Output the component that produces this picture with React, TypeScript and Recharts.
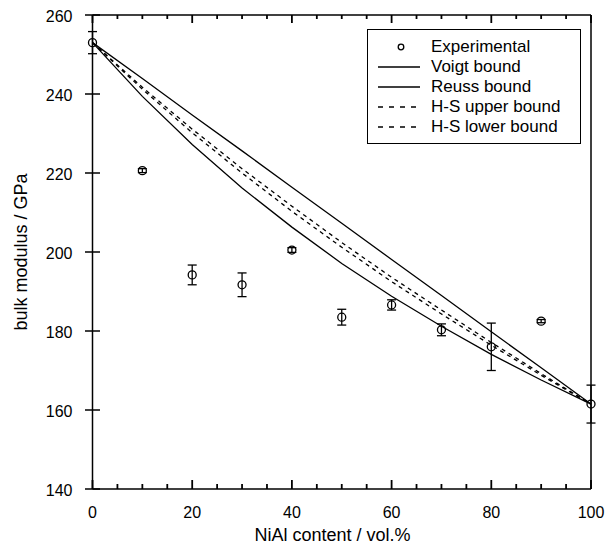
import React from "react";
import {
  ComposedChart,
  Line,
  Scatter,
  ErrorBar,
  XAxis,
  YAxis,
} from "recharts";

// NiAl volume fraction (%)
const content = [0, 10, 20, 30, 40, 50, 60, 70, 80, 90, 100];

// bounds
const voigt = [253, 243.9, 234.7, 225.6, 216.4, 207.3, 198.1, 189.0, 179.8, 170.7, 161.5];
const reuss = [253, 239.4, 227.2, 216.2, 206.3, 197.1, 188.8, 181.2, 174.1, 167.6, 161.5];
const hsUpper = [253, 241.7, 231.1, 221.1, 211.6, 202.4, 193.6, 185.3, 177.1, 169.2, 161.5];
const hsLower = [253, 241.2, 230.2, 220.0, 210.3, 201.2, 192.5, 184.3, 176.4, 168.8, 161.5];

// measured points with error
const expValue = [253.0, 220.6, 194.2, 191.7, 200.5, 183.5, 186.6, 180.3, 176.0, 182.5, 161.5];
const expError = [2.8, 0.5, 2.5, 3.0, 0.6, 2.0, 1.3, 1.5, 6.0, 0.4, 4.8];

const xTicks = [0, 5, 10, 15, 20, 25, 30, 35, 40, 45, 50, 55, 60, 65, 70, 75, 80, 85, 90, 95, 100];
const yTicks = [140, 160, 180, 200, 220, 240, 260];

const bounds = content.map((x, i) => ({
  x,
  voigt: voigt[i],
  reuss: reuss[i],
  hsUpper: hsUpper[i],
  hsLower: hsLower[i],
}));

const experimental = content.map((x, i) => ({ x, y: expValue[i], err: expError[i] }));

const FONT = "'Liberation Sans', Arial, Helvetica, sans-serif";
const INK = "#000";

const renderBottomTick = (props: any) => {
  const { x, y, payload } = props;
  const major = payload.value % 20 === 0;
  const len = major ? 9 : 5;
  return (
    <g key={`b-${payload.value}`}>
      <path d={`M${x},${y}L${x},${y - len}`} stroke={INK} strokeWidth={1.8} fill="none" />
      {major && (
        <text x={x} y={y + 29} textAnchor="middle" fontSize={16} fontFamily={FONT} fill={INK}>
          {payload.value}
        </text>
      )}
    </g>
  );
};

const renderTopTick = (props: any) => {
  const { x, y, payload } = props;
  const len = payload.value % 20 === 0 ? 8 : 4;
  return (
    <g key={`t-${payload.value}`}>
      <path d={`M${x},${y}L${x},${y + len}`} stroke={INK} strokeWidth={1.8} fill="none" />
    </g>
  );
};

const renderLeftTick = (props: any) => {
  const { x, y, payload } = props;
  return (
    <g key={`l-${payload.value}`}>
      <path d={`M${x - 7.5},${y}L${x + 7.5},${y}`} stroke={INK} strokeWidth={1.5} fill="none" />
      <text x={x - 20} y={y + 6.5} textAnchor="end" fontSize={16} fontFamily={FONT} fill={INK}>
        {payload.value}
      </text>
    </g>
  );
};

const renderRightTick = (props: any) => {
  const { x, y, payload } = props;
  return (
    <g key={`r-${payload.value}`}>
      <path d={`M${x - 8},${y}L${x + 9},${y}`} stroke={INK} strokeWidth={1.5} fill="none" />
    </g>
  );
};

function OpenCircle(props: any) {
  const { cx, cy } = props;
  return <circle cx={cx} cy={cy} r={4} fill="none" stroke={INK} strokeWidth={1.3} />;
}

function LegendBox() {
  const rows = [
    { label: "Experimental", kind: "circle" },
    { label: "Voigt bound", kind: "solid" },
    { label: "Reuss bound", kind: "solid" },
    { label: "H-S upper bound", kind: "dash" },
    { label: "H-S lower bound", kind: "dash" },
  ];
  return (
    <div
      style={{
        position: "absolute",
        left: 367,
        top: 29,
        width: 212,
        height: 106,
        border: "1.5px solid #000",
        background: "#fff",
        paddingTop: 7,
        boxSizing: "content-box",
        fontFamily: FONT,
        fontSize: 17,
      }}
    >
      {rows.map((r) => (
        <div key={r.label} style={{ display: "flex", alignItems: "center", height: 20 }}>
          <svg width={63} height={20} style={{ flex: "none" }}>
            {r.kind === "circle" && (
              <circle cx={33} cy={10} r={2.8} fill="none" stroke={INK} strokeWidth={1.3} />
            )}
            {r.kind === "solid" && <line x1={10} x2={52} y1={10} y2={10} stroke={INK} strokeWidth={1.3} />}
            {r.kind === "dash" && (
              <line x1={10} x2={52} y1={10} y2={10} stroke={INK} strokeWidth={1.3} strokeDasharray="5 6" />
            )}
          </svg>
          <span style={{ lineHeight: "20px" }}>{r.label}</span>
        </div>
      ))}
    </div>
  );
}

export default function App() {
  return (
    <div style={{ position: "absolute", left: 0, top: 0, width: 613, height: 549, background: "#fff" }}>
      <ComposedChart
        width={613}
        height={549}
        data={bounds}
        margin={{ top: 0, right: 0, bottom: 0, left: 0 }}
      >
        <XAxis
          dataKey="x"
          type="number"
          domain={[0, 100]}
          ticks={xTicks}
          interval={0}
          height={60}
          tickSize={0}
          tickMargin={0}
          tickLine={false}
          tick={renderBottomTick}
          axisLine={{ stroke: INK, strokeWidth: 1.5 }}
          label={{
            content: (p: any) => (
              <text
                x={p.viewBox.x + 240}
                y={p.viewBox.y + 52}
                textAnchor="middle"
                fontSize={18}
                fontFamily={FONT}
                fill={INK}
              >
                NiAl content / vol.%
              </text>
            ),
          }}
        />
        <XAxis
          xAxisId="top"
          dataKey="x"
          type="number"
          orientation="top"
          domain={[0, 100]}
          ticks={xTicks}
          interval={0}
          height={15}
          tickSize={0}
          tickMargin={0}
          tickLine={false}
          tick={renderTopTick}
          axisLine={{ stroke: INK, strokeWidth: 1.5 }}
        />
        <YAxis
          type="number"
          domain={[140, 260]}
          ticks={yTicks}
          interval={0}
          width={92.5}
          tickSize={0}
          tickMargin={0}
          tickLine={false}
          tick={renderLeftTick}
          axisLine={{ stroke: INK, strokeWidth: 1.5 }}
          label={{
            content: (p: any) => {
              const cx = 21;
              const cy = p.viewBox.y + p.viewBox.height / 2;
              return (
                <text
                  x={cx}
                  y={cy}
                  transform={`rotate(-90 ${cx} ${cy})`}
                  textAnchor="middle"
                  dominantBaseline="central"
                  fontSize={18}
                  fontFamily={FONT}
                  fill={INK}
                >
                  bulk modulus / GPa
                </text>
              );
            },
          }}
        />
        <YAxis
          yAxisId="right"
          orientation="right"
          type="number"
          domain={[140, 260]}
          ticks={yTicks}
          interval={0}
          width={22}
          tickSize={0}
          tickMargin={0}
          tickLine={false}
          tick={renderRightTick}
          axisLine={{ stroke: INK, strokeWidth: 1.5 }}
        />
        <Line dataKey="voigt" stroke={INK} strokeWidth={1.3} dot={false} isAnimationActive={false} />
        <Line dataKey="reuss" stroke={INK} strokeWidth={1.3} dot={false} isAnimationActive={false} />
        <Line
          dataKey="hsUpper"
          stroke={INK}
          strokeWidth={1.3}
          strokeDasharray="4 4"
          dot={false}
          isAnimationActive={false}
        />
        <Line
          dataKey="hsLower"
          stroke={INK}
          strokeWidth={1.3}
          strokeDasharray="4 4"
          dot={false}
          isAnimationActive={false}
        />
        <Scatter data={experimental} dataKey="y" shape={<OpenCircle />} isAnimationActive={false}>
          <ErrorBar dataKey="err" direction="y" width={4.5} stroke={INK} strokeWidth={1.3} />
        </Scatter>
      </ComposedChart>
      <LegendBox />
    </div>
  );
}
